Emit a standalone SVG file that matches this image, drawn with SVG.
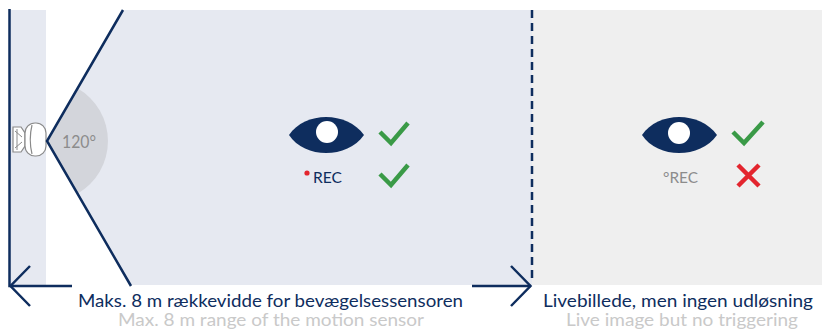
<svg xmlns="http://www.w3.org/2000/svg" width="828" height="334" viewBox="0 0 828 334">
<style>
.navy{stroke:#0e2d5e;stroke-width:2.5;fill:none}
.ok{stroke:#3a9a47;stroke-width:4.5;fill:none;stroke-linecap:butt}
.no{stroke:#e3252e;stroke-width:4.5;fill:none}
.t{font-family:"Lato","Noto Sans",sans-serif;font-size:18px}
.cap{font-family:"Lato","Noto Sans",sans-serif;font-size:17px}
.lbl{font-family:"Lato","Noto Sans",sans-serif;font-size:16px}
.eye{fill:#0e2d5e}
.cam{fill:#fff;stroke:#8a8a8a;stroke-width:1.2}
</style>
<g id="zones">
<rect x="9" y="10" width="37" height="275" fill="#e6e9f1"/>
<polygon points="123,10 532,10 532,285 131,285 47,141" fill="#e6e9f1"/>
<rect x="532" y="10" width="290" height="275" fill="#efefef"/>
<path d="M47,141 L77.5,88.2 A61,61 0 0 1 77.5,193.8 Z" fill="#d3d5db"/>
</g>
<g id="camera">
<path class="cam" d="M13,127 L21,127 L25,133 L25,146 L21,152 L13,152 Z"/>
<path d="M15,131 L22,137 M15,148 L22,142 M17,129 L17,150" stroke="#8a8a8a" stroke-width="1" fill="none"/>
<rect class="cam" x="25" y="123" width="21" height="33" rx="10"/>
<path d="M32,125 Q28.5,139.5 32,154" stroke="#8a8a8a" stroke-width="1.2" fill="none"/>
</g>
<g id="angle">
<text x="62" y="148" class="t" fill="#8c8c8c" textLength="34" lengthAdjust="spacingAndGlyphs">120°</text>
</g>
<g id="connectors">
<path class="navy" d="M123,10 L47,141 L131,286"/>
<path class="navy" d="M9.5,9 L9.5,286 L72,286"/>
<path class="navy" d="M30,266 L10.5,286 L30,306"/>
<path class="navy" d="M472,286 L531,286"/>
<path class="navy" d="M511,266 L530.5,286 L511,306"/>
<path class="navy" d="M532,10 L532,283" stroke-dasharray="8,5"/>
</g>
<g id="zone-motion">
<path class="eye" d="M289,135 C305,111 347,111 364,135 C347,159 305,159 289,135 Z"/>
<circle cx="327" cy="132" r="11" fill="#fff"/>
<polyline class="ok" points="380,132 391,143 408,123"/>
<circle cx="307" cy="173" r="2.6" fill="#e3252e"/>
<text x="313" y="183" class="lbl" fill="#0e2d5e" textLength="29" lengthAdjust="spacingAndGlyphs">REC</text>
<polyline class="ok" points="380,174 391,185 408,165"/>
</g>
<g id="zone-live">
<path class="eye" d="M642,135 C658,111 700,111 717,135 C700,159 658,159 642,135 Z"/>
<circle cx="679" cy="133" r="11" fill="#fff"/>
<polyline class="ok" points="733,132 744,143 763,122"/>
<text x="663" y="183" class="lbl" fill="#8c8c8c" textLength="35" lengthAdjust="spacingAndGlyphs">°REC</text>
<path class="no" d="M738,165 L759,186 M759,165 L738,186"/>
</g>
<g id="captions">
<text x="78" y="307" class="cap" fill="#0e2d5e" textLength="385" lengthAdjust="spacingAndGlyphs">Maks. 8 m rækkevidde for bevægelsessensoren</text>
<text x="118" y="326" class="cap" fill="#c9c9c9" textLength="306" lengthAdjust="spacingAndGlyphs">Max. 8 m range of the motion sensor</text>
<text x="543" y="307" class="cap" fill="#0e2d5e" textLength="270" lengthAdjust="spacingAndGlyphs">Livebillede, men ingen udløsning</text>
<text x="566" y="326" class="cap" fill="#c9c9c9" textLength="232" lengthAdjust="spacingAndGlyphs">Live image but no triggering</text>
</g>
</svg>
